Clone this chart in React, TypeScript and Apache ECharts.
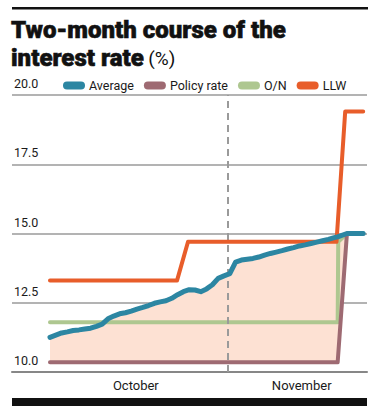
import React, { useEffect, useRef } from "react";
import * as echarts from "echarts";

// Day index (0 = first day shown, ~30.7 = 1 November)
const days = [0, 1, 2, 3, 4, 5, 6, 7, 8, 9, 10, 11, 12, 13, 14, 15, 16, 17, 18, 19, 20, 21, 22, 23, 24, 25, 26, 27, 28, 29, 30, 31, 32, 33, 34, 35, 36, 37, 38, 39, 40, 41, 42, 43, 44, 45, 46, 47, 48, 49, 49.6, 51.2, 52, 53, 54];
const averageRate = [11.25, 11.33, 11.41, 11.45, 11.5, 11.52, 11.55, 11.58, 11.65, 11.73, 11.92, 12.02, 12.1, 12.14, 12.2, 12.27, 12.33, 12.4, 12.48, 12.53, 12.57, 12.66, 12.79, 12.9, 12.97, 12.96, 12.9, 13.0, 13.15, 13.38, 13.47, 13.55, 13.97, 14.04, 14.07, 14.1, 14.15, 14.22, 14.28, 14.33, 14.38, 14.44, 14.49, 14.55, 14.59, 14.64, 14.69, 14.74, 14.79, 14.85, 14.88, 15.0, 15.0, 15.0, 15.0];
const policyRate = [10.35, 10.35, 10.35, 10.35, 10.35, 10.35, 10.35, 10.35, 10.35, 10.35, 10.35, 10.35, 10.35, 10.35, 10.35, 10.35, 10.35, 10.35, 10.35, 10.35, 10.35, 10.35, 10.35, 10.35, 10.35, 10.35, 10.35, 10.35, 10.35, 10.35, 10.35, 10.35, 10.35, 10.35, 10.35, 10.35, 10.35, 10.35, 10.35, 10.35, 10.35, 10.35, 10.35, 10.35, 10.35, 10.35, 10.35, 10.35, 10.35, 10.35, 10.35, 15.0, 15.0, 15.0, 15.0];
const overnightDays = [0, 49.6, 49.7, 51.2, 54];
const overnightRate = [11.8, 11.8, 14.7, 15.0, 15.0];
const llwDays = [0, 21.9, 23.8, 49.4, 50.9, 54];
const llwRate = [13.3, 13.3, 14.7, 14.7, 19.4, 19.4];

const monthLabelDays = [14.8, 43.4];
const monthLabels = ["October", "November"];
const novemberStart = 30.69;

const yTicks = [10, 12.5, 15, 17.5, 20];

const FONT = "Roboto, 'Noto Sans', sans-serif";
const TITLE_FONT = "Roboto, Lato, sans-serif";

export default function App() {
  const ref = useRef<HTMLDivElement>(null);

  useEffect(() => {
    if (!ref.current) return;
    const chart = echarts.init(ref.current, null, { renderer: "svg" });

    const pairs = (xs: number[], ys: number[]) => xs.map((x, i) => [x, ys[i]]);

    const lineCommon = {
      type: "line",
      showSymbol: false,
      symbol: "none",
      smooth: false,
      silent: true,
    };

    const heavy = {
      fontFamily: TITLE_FONT,
      fontWeight: 900,
      fontSize: 24,
      lineHeight: 24,
      color: "#111111",
      textBorderColor: "#111111",
      textBorderWidth: 0.6,
    };

    chart.setOption({
      animation: false,
      backgroundColor: "#ffffff",
      textStyle: { fontFamily: FONT },
      title: [
        {
          left: 11,
          top: 18,
          padding: 0,
          text: "Two-month course of the",
          textStyle: heavy,
        },
        {
          left: 11,
          top: 46,
          padding: 0,
          text: "{b|interest rate} {r|(%)}",
          textStyle: {
            rich: {
              b: heavy,
              r: {
                fontFamily: FONT,
                fontWeight: 400,
                fontSize: 19,
                lineHeight: 24,
                color: "#111111",
              },
            },
          },
        },
      ],
      legend: {
        left: 58,
        top: 74,
        itemWidth: 22,
        itemHeight: 8,
        itemGap: 10,
        icon: "path://M4,0 H18 A4,4 0 0 1 18,8 H4 A4,4 0 0 1 4,0 Z",
        data: ["Average", "Policy rate", "O/N", "LLW"],
        textStyle: { fontFamily: FONT, fontSize: 12.5, color: "#1a1a1a", padding: [0, 0, 0, -1] },
        selectedMode: false,
      },
      grid: { left: 12, right: 11, top: 95, bottom: 43 },
      xAxis: {
        type: "value",
        min: -6.55,
        max: 54.66,
        axisLine: { show: true, lineStyle: { color: "#1a1a1a", width: 1.5 } },
        axisTick: { show: false },
        splitLine: { show: false },
        axisLabel: {
          customValues: monthLabelDays,
          formatter: (v: number) => {
            const i = monthLabelDays.findIndex((m) => Math.abs(m - v) < 0.01);
            return i >= 0 ? monthLabels[i] : "";
          },
          margin: 7,
          fontFamily: FONT,
          fontSize: 13,
          color: "#1a1a1a",
        },
      },
      yAxis: {
        type: "value",
        min: yTicks[0],
        max: yTicks[yTicks.length - 1],
        interval: 2.5,
        axisLine: { show: false },
        axisTick: { show: false },
        splitLine: { show: true, lineStyle: { color: "#9a9a9a", width: 1.5 } },
        axisLabel: {
          inside: true,
          margin: 2,
          verticalAlign: "bottom",
          padding: [0, 0, 5, 0],
          formatter: (v: number) => v.toFixed(1),
          fontFamily: FONT,
          fontSize: 12.5,
          color: "#1a1a1a",
        },
        z: 1,
      },
      series: [
        {
          type: "custom",
          name: "band",
          silent: true,
          clip: true,
          z: 2,
          data: pairs(days, averageRate),
          encode: { x: 0, y: 1 },
          renderItem: (params: any, api: any) => {
            if (params.dataIndex !== 0) return null;
            const top = days.map((d, i) => api.coord([d, averageRate[i]]));
            const bottom = days.map((d, i) => api.coord([d, policyRate[i]])).reverse();
            return {
              type: "polygon",
              shape: { points: top.concat(bottom) },
              style: { fill: "#fde1d3" },
            };
          },
        },
        {
          ...lineCommon,
          name: "O/N",
          data: pairs(overnightDays, overnightRate),
          color: "#aec790",
          lineStyle: { color: "#aec790", width: 4, cap: "round", join: "round" },
          z: 3,
          markLine: {
            silent: true,
            symbol: "none",
            label: { show: false },
            lineStyle: { color: "#9a9a9a", type: [7, 5], width: 2 },
            data: [{ xAxis: novemberStart }],
          },
        },
        {
          ...lineCommon,
          name: "Policy rate",
          data: pairs(days, policyRate),
          color: "#9e6a72",
          lineStyle: { color: "#9e6a72", width: 4, cap: "round", join: "round" },
          z: 4,
        },
        {
          ...lineCommon,
          name: "LLW",
          data: pairs(llwDays, llwRate),
          color: "#e85d2a",
          lineStyle: { color: "#e85d2a", width: 4, cap: "round", join: "round" },
          z: 5,
        },
        {
          ...lineCommon,
          name: "Average",
          data: pairs(days, averageRate),
          color: "#2c86a2",
          lineStyle: { color: "#2c86a2", width: 5, cap: "round", join: "round" },
          z: 6,
        },
      ],
      graphic: [
        { type: "rect", left: 12, top: 7, shape: { width: 356, height: 2.5 }, style: { fill: "#111111" }, silent: true },
        { type: "rect", left: 12, top: 398, shape: { width: 355, height: 8 }, style: { fill: "#111111" }, silent: true },
      ],
    });

    return () => chart.dispose();
  }, []);

  return (
    <div
      ref={ref}
      style={{ position: "fixed", left: 0, top: 0, width: 378, height: 415, background: "#ffffff" }}
    />
  );
}
